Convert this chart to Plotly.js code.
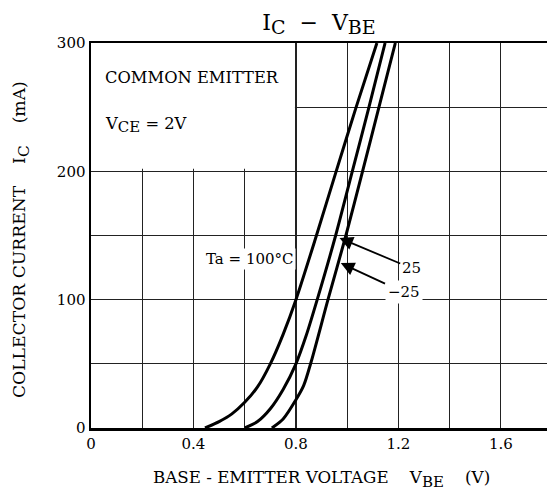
<!DOCTYPE html>
<html>
<head>
<meta charset="utf-8">
<script src="https://cdn.plot.ly/plotly-3.0.1.min.js"></script>
<style>html,body{margin:0;padding:0;background:#fff;}#chart{width:547px;height:491px;}</style>
</head>
<body>
<div id="chart"></div>
<script>
// Ic - Vbe curves (V, mA)
var vbe_100 = [0.445, 0.50, 0.55, 0.60, 0.65, 0.70, 0.75, 0.80, 0.88, 0.957, 1.035, 1.116];
var ic_100  = [0, 5, 11, 20, 32, 50, 73, 100, 150, 200, 250, 300];
var vbe_25  = [0.60, 0.65, 0.70, 0.75, 0.80, 0.84, 0.883, 0.955, 1.02, 1.085, 1.148];
var ic_25   = [0, 5, 15, 30, 50, 72, 100, 150, 200, 250, 300];
var vbe_m25 = [0.706, 0.75, 0.80, 0.83, 0.86, 0.925, 0.995, 1.06, 1.124, 1.188];
var ic_m25  = [0, 7, 22, 33, 52, 100, 150, 200, 250, 300];

var xTickVals = [0, 0.4, 0.8, 1.2, 1.6];
var xTickText = ["0", "0.4", "0.8", "1.2", "1.6"];
var yTickVals = [0, 100, 200, 300];
var yTickText = ["0", "100", "200", "300"];

var F = "DejaVu Serif";
function sub(t, px) { return "<sub><span style='font-size:" + px + "px'>" + t + "</span></sub>"; }
var lineStyle = {color: "#000", width: 3, shape: "spline", smoothing: 0.8};

var traces = [
  {x: vbe_100, y: ic_100, mode: "lines", line: lineStyle, hoverinfo: "skip"},
  {x: vbe_25, y: ic_25, mode: "lines", line: lineStyle, hoverinfo: "skip"},
  {x: vbe_m25, y: ic_m25, mode: "lines", line: lineStyle, hoverinfo: "skip"}
];

var gridC = "#222";
var layout = {
  width: 547, height: 491,
  margin: {l: 91, r: 0, t: 43, b: 63, pad: 0},
  paper_bgcolor: "#fff", plot_bgcolor: "#fff",
  showlegend: false,
  font: {family: F, color: "#000", size: 15},
  title: {text: "I" + sub("C", 19) + "  −  V" + sub("BE", 19), font: {family: F, size: 22, color: "#000"},
          x: 0.5, xref: "paper", y: 0.955, yref: "container", yanchor: "middle"},
  xaxis: {
    range: [0, 1.78], tickvals: xTickVals, ticktext: xTickText,
    showgrid: true, gridcolor: gridC, gridwidth: 1.2,
    minor: {dtick: 0.2, showgrid: true, gridcolor: gridC, gridwidth: 1.2},
    showline: true, linecolor: "#000", linewidth: 2.5, mirror: true,
    ticks: "", zeroline: false, tickfont: {family: F, size: 15, color: "#000"},
    fixedrange: true
  },
  yaxis: {
    range: [0, 300], tickvals: yTickVals, ticktext: yTickText,
    showgrid: true, gridcolor: gridC, gridwidth: 1.2,
    minor: {dtick: 50, showgrid: true, gridcolor: gridC, gridwidth: 1.2},
    showline: true, linecolor: "#000", linewidth: 2.5,
    ticks: "", zeroline: false, tickfont: {family: F, size: 15, color: "#000"},
    fixedrange: true
  },
  shapes: [
    {type: "rect", layer: "between", xref: "x", yref: "y", x0: 0, x1: 0.796, y0: 202, y1: 300,
     fillcolor: "#fff", line: {width: 0}}
  ],
  annotations: [
    {text: "COLLECTOR CURRENT    I" + sub("C", 15.5) + "    (mA)", textangle: -90, xref: "paper", yref: "paper",
     x: -0.152, y: 0.49, xanchor: "center", yanchor: "middle", showarrow: false,
     font: {family: F, size: 17.2, color: "#000"}},
    {text: "BASE - EMITTER VOLTAGE    V" + sub("BE", 15) + "    (V)", xref: "paper", yref: "paper",
     x: 0.505, y: -0.132, xanchor: "center", yanchor: "middle", showarrow: false,
     font: {family: F, size: 16.7, color: "#000"}},
    {text: "COMMON EMITTER", xref: "x", yref: "y", x: 0.045, y: 272.8, xanchor: "left", yanchor: "middle",
     showarrow: false, font: {family: F, size: 16.3, color: "#000"}},
    {text: "V" + sub("CE", 15) + " = 2V", xref: "x", yref: "y", x: 0.045, y: 236, xanchor: "left", yanchor: "middle",
     showarrow: false, font: {family: F, size: 16.3, color: "#000"}},
    {text: "Ta = 100°C", xref: "x", yref: "y", x: 0.619, y: 131.6, xanchor: "center", yanchor: "middle",
     showarrow: false, bgcolor: "#fff", borderpad: 1, font: {family: F, size: 15, color: "#000"}},
    {text: "25", xref: "x", yref: "y", x: 0.97, y: 148, ax: 1.25, ay: 124.6, axref: "x", ayref: "y",
     showarrow: true, arrowhead: 2, arrowsize: 1.5, arrowwidth: 1.8, arrowcolor: "#000", standoff: 0,
     font: {family: F, size: 15, color: "#000"}},
    {text: "−25", xref: "x", yref: "y", x: 0.975, y: 128.5, ax: 1.22, ay: 105.8, axref: "x", ayref: "y",
     showarrow: true, arrowhead: 2, arrowsize: 1.5, arrowwidth: 1.8, arrowcolor: "#000", standoff: 0,
     bgcolor: "#fff", borderpad: 2, font: {family: F, size: 15, color: "#000"}}
  ]
};

Plotly.newPlot("chart", traces, layout, {staticPlot: true, displayModeBar: false});
</script>
</body>
</html>
